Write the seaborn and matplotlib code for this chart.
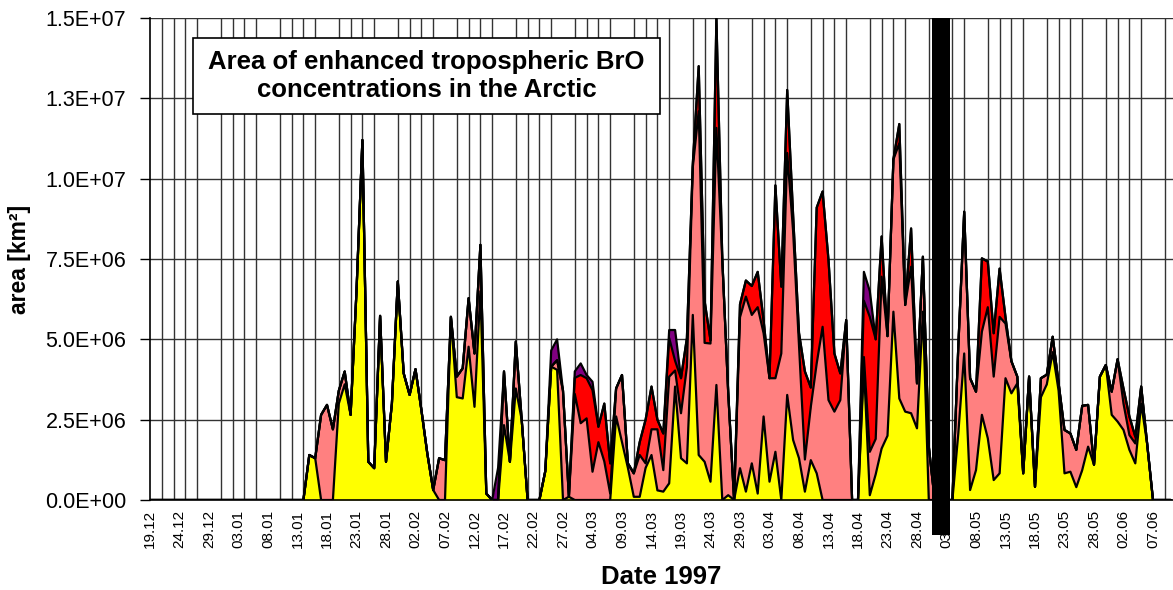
import numpy as np
import pandas as pd
import matplotlib
matplotlib.use("Agg")
import matplotlib.pyplot as plt
import matplotlib.transforms as mtransforms
from matplotlib.patches import Rectangle
import seaborn as sns

# ---------------- data (area in 1e6 km^2, one value per day from 19.12.1996) -------------
tick_labels = ["19.12", "24.12", "29.12", "03.01", "08.01", "13.01", "18.01", "23.01",
               "28.01", "02.02", "07.02", "12.02", "17.02", "22.02", "27.02", "04.03",
               "09.03", "14.03", "19.03", "24.03", "29.03", "03.04", "08.04", "13.04",
               "18.04", "23.04", "28.04", "03.05", "08.05", "13.05", "18.05", "23.05",
               "28.05", "02.06", "07.06"]

yellow = [0, 0, 0, 0, 0, 0, 0, 0, 0, 0,
          0, 0, 0, 0, 0, 0, 0, 0, 0, 0,
          0, 0, 0, 0, 0, 0, 0, 1.4, 1.3, 0,
          0, 0, 3.0, 3.6, 2.65, 6.5, 11.2, 1.19, 0.99, 5.73,
          1.19, 3.0, 6.8, 3.94, 3.27, 4.07, 2.8, 1.45, 0.31, 0,
          0, 5.7, 3.2, 3.16, 4.77, 2.9, 6.5, 0.2, 0, 0,
          2.33, 1.19, 3.47, 2.5, 0, 0, 0, 0.9, 4.15, 4.05,
          0, 0.1, 0, 0, 0, 0, 0, 0, 0, 2.6,
          1.8, 1.0, 0.1, 0.1, 1.0, 1.4, 0.3, 0.26, 0.52, 3.53,
          1.3, 1.14, 5.76, 1.4, 1.19, 0.57, 3.58, 0, 0.15, 0,
          0.99, 0.26, 1.14, 0.2, 2.6, 0.57, 1.5, 0, 3.27, 1.87,
          1.3, 0.26, 1.24, 0.83, 0, 0, 0, 0, 0, 0,
          0, 4.15, 0.15, 0.8, 1.6, 2.0, 5.86, 3.16, 2.75, 2.7,
          2.23, 5.86, 0, 0, 0, 0, 0, 2.07, 4.56, 0.31,
          0.93, 2.65, 1.92, 0.62, 0.83, 3.79, 3.32, 3.63, 0.83, 3.84,
          0.41, 3.2, 3.6, 4.6, 3.4, 0.83, 0.88, 0.4, 0.93, 1.66,
          1.1, 3.84, 4.2, 2.65, 2.44, 2.18, 1.56, 1.14, 3.0, 1.76,
          0, 0, 0, 0]

pink = [0, 0, 0, 0, 0, 0, 0, 0, 0, 0,
        0, 0, 0, 0, 0, 0, 0, 0, 0, 0,
        0, 0, 0, 0, 0, 0, 0, 0, 0, 2.65,
        2.96, 2.2, 0.4, 0.4, 0, 0, 0, 0, 0, 0,
        0, 0, 0, 0, 0, 0, 0, 0, 0, 1.3,
        1.24, 0, 0.64, 0.94, 1.51, 1.66, 1.44, 0, 0, 0,
        1.67, 0, 1.46, 0, 0, 0, 0, 0, 0, 0.3,
        3.4, 0, 3.3, 2.39, 2.54, 0.88, 1.8, 1.2, 0.2, 0.87,
        2.09, 0.14, 0.73, 1.3, 0.14, 0.8, 1.9, 0.67, 3.32, 0.5,
        1.4, 3.0, 4.6, 10.7, 3.7, 4.3, 8.0, 7.5, 3.2, 0,
        4.7, 6.07, 4.62, 5.8, 2.59, 3.22, 2.29, 4.56, 7.53, 6.5,
        3.5, 1.0, 1.66, 3.42, 5.39, 3.11, 2.75, 3.11, 5.6, 0,
        0, 0.3, 1.35, 1.1, 5.35, 3.1, 4.74, 7.94, 3.32, 4.56,
        1.4, 1.71, 1.66, 0, 0, 0, 0, 2.7, 4.41, 3.48,
        2.44, 2.59, 4.08, 3.22, 4.87, 1.7, 1.0, 0.21, 0, 0,
        0, 0.59, 0.3, 0.48, 0.23, 1.35, 1.19, 1.16, 2.0, 1.3,
        0, 0, 0, 0.72, 1.94, 0.82, 0.46, 0.62, 0.53, 0,
        0, 0, 0, 0]

red = [0, 0, 0, 0, 0, 0, 0, 0, 0, 0,
       0, 0, 0, 0, 0, 0, 0, 0, 0, 0,
       0, 0, 0, 0, 0, 0, 0, 0, 0, 0,
       0, 0, 0, 0, 0, 0, 0, 0, 0, 0,
       0, 0, 0, 0, 0, 0, 0, 0, 0, 0,
       0, 0, 0, 0, 0, 0, 0, 0, 0, 0,
       0, 0, 0, 0, 0, 0, 0, 0, 0, 0,
       0, 0, 0.5, 1.5, 1.25, 2.54, 0.48, 1.8, 0.94, 0,
       0, 0, 0, 0.4, 1.36, 1.33, 0.3, 1.14, 1.2, 0.3,
       1.09, 0.9, 0.1, 1.4, 1.3, 0.1, 3.4, 0, 0, 0,
       0.4, 0.5, 0.9, 1.1, 0.4, 0, 6.0, 2.08, 1.96, 0.5,
       0.4, 2.74, 0.6, 4.85, 4.21, 4.36, 1.81, 0.83, 0, 0,
       0, 1.75, 4.2, 3.1, 1.25, 0, 0, 0.6, 0, 1.19,
       0, 0, 0, 0, 0, 0, 0, 0, 0, 0,
       0, 2.28, 1.42, 1.35, 1.5, 0.2, 0, 0, 0, 0,
       0, 0, 0, 0, 0, 0, 0, 0, 0, 0,
       0, 0, 0, 0, 0, 0.47, 0.58, 0.21, 0, 0,
       0, 0, 0, 0]

purple = [0, 0, 0, 0, 0, 0, 0, 0, 0, 0,
          0, 0, 0, 0, 0, 0, 0, 0, 0, 0,
          0, 0, 0, 0, 0, 0, 0, 0, 0, 0,
          0, 0, 0, 0, 0, 0, 0, 0, 0, 0,
          0, 0, 0, 0, 0, 0, 0, 0, 0, 0,
          0, 0, 0, 0, 0, 0, 0, 0, 0, 1.0,
          0, 0, 0, 0, 0, 0, 0, 0, 0.5, 0.65,
          0, 0, 0.2, 0.36, 0.1, 0.26, 0, 0, 0, 0,
          0, 0, 0, 0, 0, 0, 0, 0, 0.25, 0.96,
          0, 0, 0, 0, 0, 0, 0, 0, 0, 0,
          0, 0, 0, 0, 0, 0, 0, 0, 0, 0,
          0, 0, 0, 0, 0, 0, 0, 0, 0, 0,
          0, 0.9, 0.8, 0, 0, 0, 0, 0, 0, 0,
          0, 0, 0, 0, 0, 0, 0, 0, 0, 0,
          0, 0, 0, 0, 0, 0, 0, 0, 0, 0,
          0, 0, 0, 0, 0, 0, 0, 0, 0, 0,
          0, 0, 0, 0, 0, 0, 0, 0, 0, 0,
          0, 0, 0, 0]

UNIT = 1e6
layer_colors = ["#FFFF00", "#FF8080", "#FF0000", "#800080"]

# ---------------- style ----------------
sns.set_theme(style="white")
plt.rcParams["font.family"] = ["Liberation Sans", "DejaVu Sans"]
plt.rcParams["text.color"] = "black"
plt.rcParams["axes.labelcolor"] = "black"
plt.rcParams["xtick.color"] = "black"
plt.rcParams["ytick.color"] = "black"

df = pd.DataFrame({"day": np.arange(len(yellow)),
                   "yellow": np.array(yellow) * UNIT,
                   "pink": np.array(pink) * UNIT,
                   "red": np.array(red) * UNIT,
                   "purple": np.array(purple) * UNIT})

W, H = 1173, 590
fig = plt.figure(figsize=(W / 100, H / 100), dpi=100)
fig.patch.set_facecolor("white")
ax = fig.add_axes([150 / W, 90 / H, (W - 150) / W, 482 / H])
ax.set_facecolor("white")

XMAX = (W - 150) / 5.9
ax.set_xlim(0, XMAX)
ax.set_ylim(0, 1.5e7)

# ticks and grid
ax.set_xticks(np.arange(0, XMAX, 2), minor=True)
ax.set_xticks(np.arange(0, 5 * len(tick_labels), 5))
ax.set_xticklabels(tick_labels, rotation=90, fontsize=11, color="black")
ax.set_yticks(np.arange(0, 1.5e7 + 1, 2.5e6))
ax.set_yticklabels(["0.0E+00", "2.5E+06", "5.0E+06", "7.5E+06", "1.0E+07", "1.3E+07", "1.5E+07"],
                   fontsize=15.5, color="black")
ax.grid(which="minor", axis="x", color="#333333", lw=1.0)
ax.grid(which="major", axis="x", visible=False)
ax.grid(which="major", axis="y", color="#333333", lw=1.0)
ax.set_axisbelow(True)

ax.tick_params(axis="x", which="major", length=0, pad=7)
ax.tick_params(axis="x", which="minor", direction="inout", length=8, width=1, color="black")
ax.tick_params(axis="y", which="major", direction="out", length=7, width=1, color="black",
               pad=10, left=True)

for s in ["right", "top"]:
    ax.spines[s].set_visible(False)
ax.spines["left"].set_color("black")
ax.spines["left"].set_linewidth(1.2)
ax.spines["bottom"].set_color("black")
ax.spines["bottom"].set_linewidth(1.2)

# stacked areas
layers = ["yellow", "pink", "red", "purple"]
base = np.zeros(len(df))
tops = []
for name, col in zip(layers, layer_colors):
    top = base + df[name].values
    ax.fill_between(df["day"], base, top, color=col, lw=0, zorder=2)
    tops.append(top)
    base = top
for top in tops:
    sns.lineplot(x=df["day"], y=top, color="black", lw=1.6, ax=ax, zorder=3)

ax.set_xlabel("Date 1997", fontsize=18.5, fontweight="bold", labelpad=12)
ax.set_ylabel("area [km²]", fontsize=16.5, fontweight="bold", labelpad=10)

# title box
ax.add_patch(Rectangle((43 / 1023, (500 - 114) / 482), 467 / 1023, 76 / 482,
                       transform=ax.transAxes, facecolor="white", edgecolor="black",
                       lw=1.2, zorder=5))
ax.text((43 + 467 / 2) / 1023, (500 - 76) / 482,
        "Area of enhanced tropospheric BrO\nconcentrations in the Arctic",
        transform=ax.transAxes, ha="center", va="center", fontsize=18.5,
        fontweight="bold", linespacing=1.25, zorder=6)

# black bar (data gap)
trans = mtransforms.blended_transform_factory(ax.transData, ax.transAxes)
ax.add_patch(Rectangle((132.5, -35 / 482), 3.1, 1 + 35 / 482, transform=trans,
                       facecolor="black", edgecolor="none", clip_on=False, zorder=7))

fig.savefig("out.png", dpi=100)
